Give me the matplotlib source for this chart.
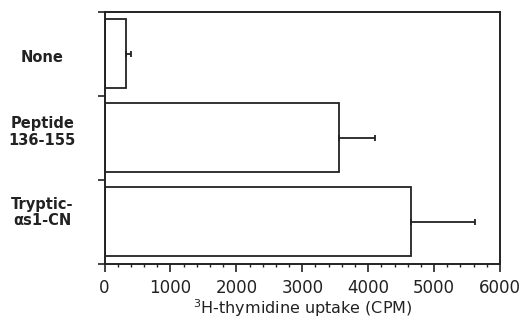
import matplotlib.pyplot as plt
import numpy as np
from matplotlib.ticker import MultipleLocator

plt.rcParams['font.family'] = 'DejaVu Sans'

# data
labels = ['None', 'Peptide\n136-155', 'Tryptic-\n\u03b1s1-CN']
uptake = [320, 3550, 4650]
err = [80, 550, 970]

fig = plt.figure(figsize=(5.23, 3.21), dpi=100)
ax = fig.add_axes([0.200, 0.178, 0.756, 0.785])

pos = np.arange(len(labels))
ax.barh(pos, uptake, height=0.82, color='white', edgecolor='#222222', linewidth=1.3)
ax.errorbar(uptake, pos, xerr=[np.zeros(len(err)), err], fmt='none',
            ecolor='#222222', elinewidth=1.3, capsize=2, capthick=1.3)

ax.set_xlim(0, 6000)
ax.set_ylim(2.5, -0.5)

# boundary ticks on the y axis, labels placed as text
ax.set_yticks([-0.5, 0.5, 1.5, 2.5])
ax.set_yticklabels([])
# labels sit a little off the bar centres in the scan
shifts = [0.04, -0.07, -0.11]
for i, lab in enumerate(labels):
    ax.text(-0.158, i + shifts[i], lab, transform=ax.get_yaxis_transform(), ha='center',
            va='center', multialignment='center', fontsize=10.5, fontweight='bold',
            color='#222222', linespacing=1.1)

ax.xaxis.set_major_locator(MultipleLocator(1000))
ax.xaxis.set_minor_locator(MultipleLocator(200))
ax.tick_params(axis='x', which='major', length=6, width=1.2, labelsize=12, colors='#222222', pad=5)
ax.tick_params(axis='x', which='minor', length=2.5, width=1.0, colors='#222222')
ax.tick_params(axis='y', length=5, width=1.2, colors='#222222')

for s in ax.spines.values():
    s.set_linewidth(1.4)
    s.set_color('#222222')

ax.set_xlabel('$^3$H-thymidine uptake (CPM)', fontsize=11.5, color='#222222', labelpad=0)

fig.savefig('out.png', dpi=100)
